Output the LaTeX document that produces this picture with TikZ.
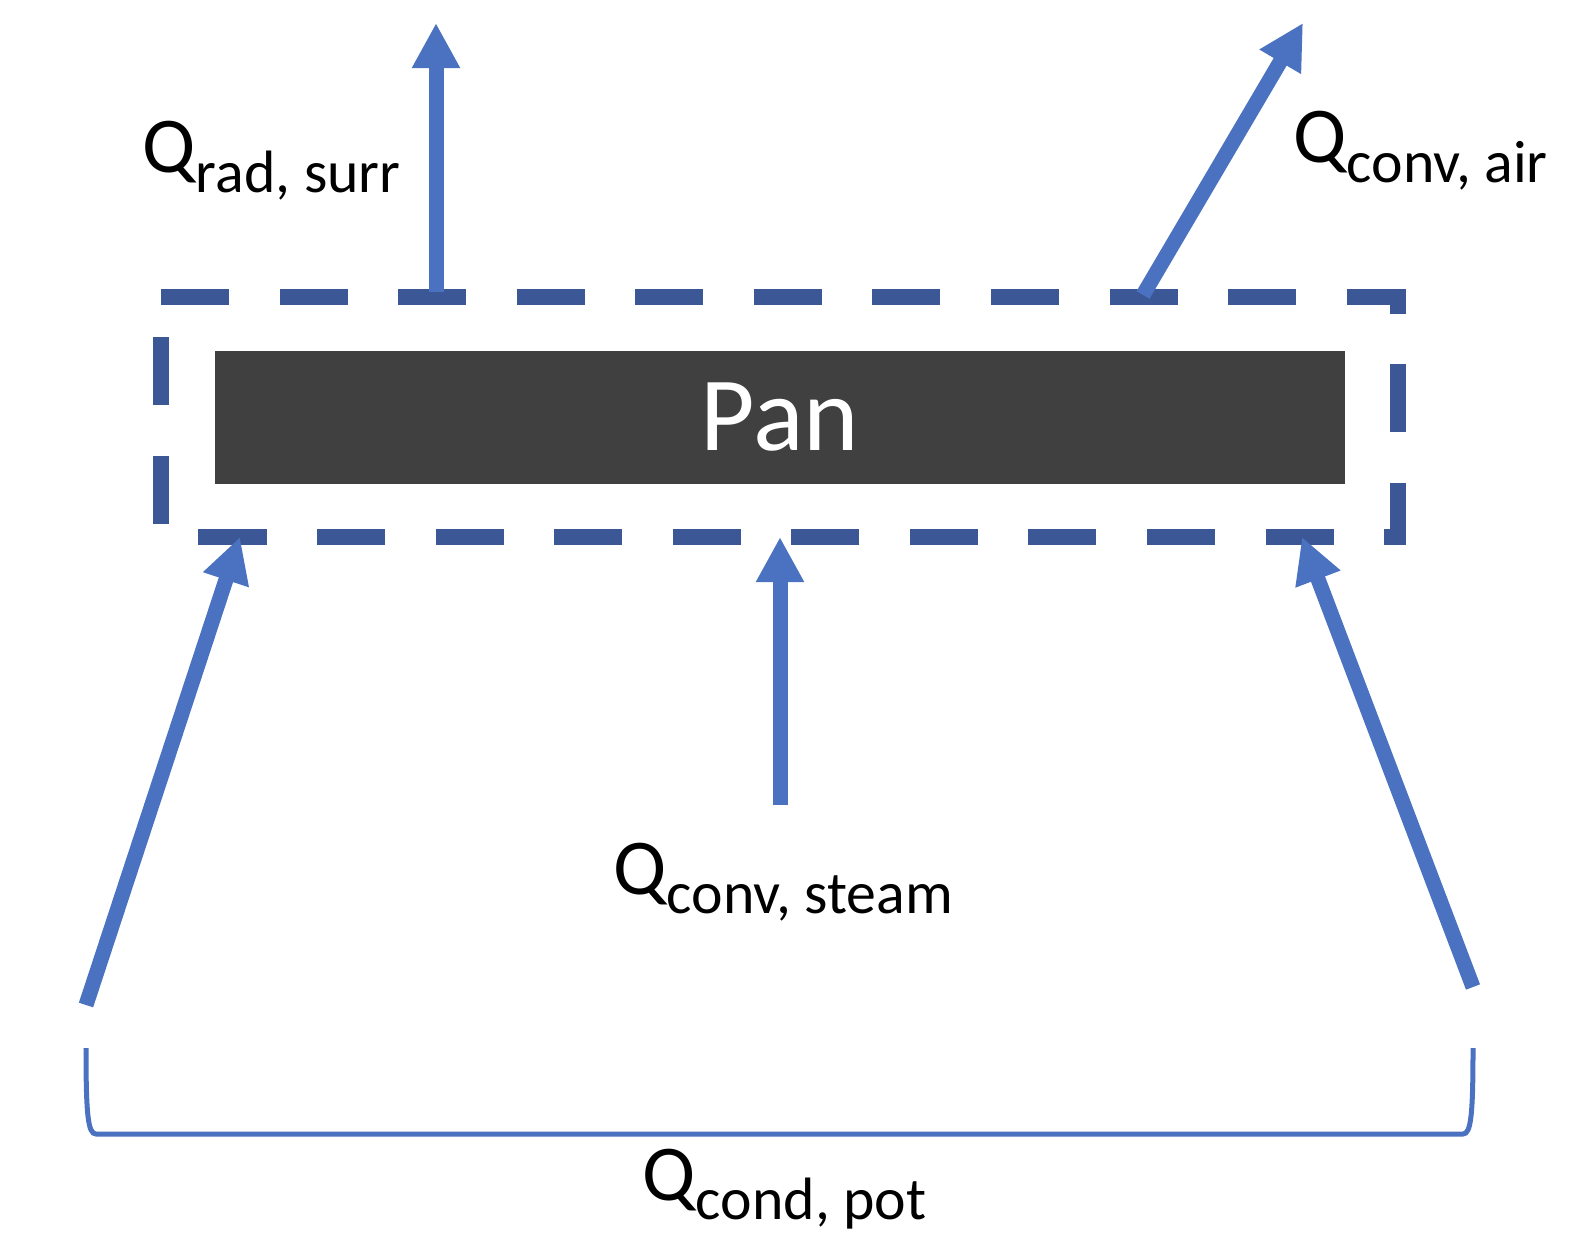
\documentclass[tikz,border=0pt]{standalone}
\usepackage{fontspec}
\setmainfont{Carlito}
\usetikzlibrary{arrows.meta}
\definecolor{boundblue}{HTML}{3B5796}
\definecolor{flowblue}{HTML}{4A72C0}
\definecolor{pangray}{HTML}{404040}
\newcommand{\qsub}[1]{\raisebox{-0.19cm}{\fontsize{17pt}{18pt}\selectfont #1}}

\begin{document}
\begin{tikzpicture}[
    x=0.01cm, y=-0.01cm,
    every node/.style={font=\fontsize{22.5pt}{24pt}\selectfont},
    panbox/.style={rectangle, fill=pangray, text=white, inner sep=0pt,
        minimum width=11.3cm, minimum height=1.33cm,
        font=\fontsize{30pt}{32pt}\selectfont},
    boundary/.style={draw=boundblue, line width=0.16cm,
        dash pattern=on 0.68cm off 0.505cm},
    flow/.style={draw=flowblue, line width=0.15cm,
        -{Triangle[length=0.45cm, width=0.45cm]}},
    bracket/.style={draw=flowblue, line width=0.05cm},
    qlabel/.style={anchor=base west, inner sep=0pt},
]
\useasboundingbox (0,0) rectangle (1570,1252);

\node[panbox] (pan) at (780,417.5) {Pan};
\draw[boundary] (161,297) -- (1398,297) -- (1398,537) -- (161,537) -- cycle;

\coordinate (radfoot) at (436,292);
\coordinate (radtip) at (436,23);
\coordinate (airfoot) at (1143,295);
\coordinate (airtip) at (1303,23);
\coordinate (steamfoot) at (780,805);
\coordinate (steamtip) at (780,537);
\coordinate (potlfoot) at (86,1005);
\coordinate (potltip) at (240,537);
\coordinate (potrfoot) at (1473,987);
\coordinate (potrtip) at (1302,537);
\coordinate (bracel) at (86,1048);
\coordinate (bracer) at (1473,1048);

\draw[flow] (radfoot) -- (radtip);
\draw[flow] (airfoot) -- (airtip);
\draw[flow] (steamfoot) -- (steamtip);
\draw[flow] (potlfoot) -- (potltip);
\draw[flow] (potrfoot) -- (potrtip);

\draw[bracket] (bracel) .. controls (86,1115) and (88,1134) .. (96,1134)
    -- (1463,1134) .. controls (1471,1134) and (1473,1115) .. (bracer);

\node[qlabel] (qrad) at (142,173) {Q\qsub{rad, surr}};
\node[qlabel] (qair) at (1293,163) {Q\qsub{conv, air}};
\node[qlabel] (qsteam) at (613,894) {Q\qsub{conv, steam}};
\node[qlabel] (qpot) at (642,1200) {Q\qsub{cond, pot}};
\end{tikzpicture}
\end{document}
